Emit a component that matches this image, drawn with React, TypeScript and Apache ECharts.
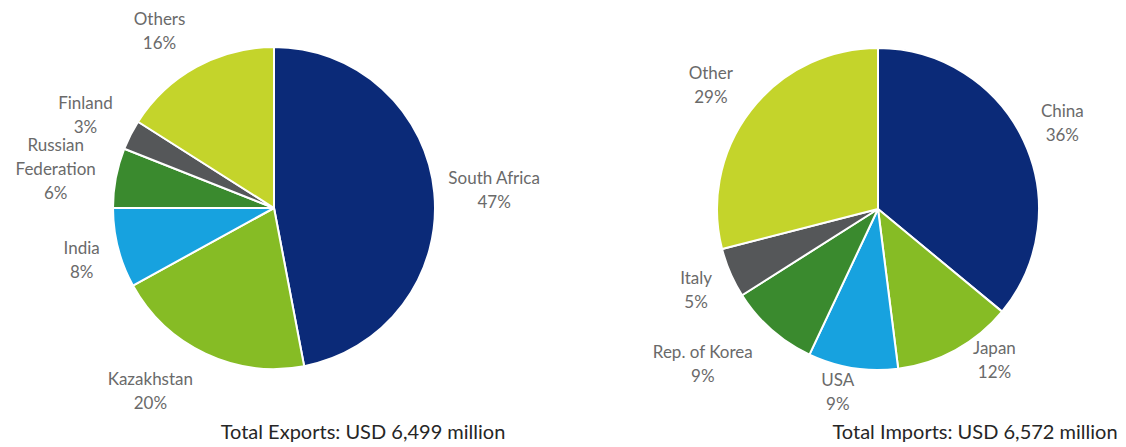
import React, { useEffect, useRef } from "react";
import * as echarts from "echarts";

// ---- data ----
const exportCategories = ["South Africa", "Kazakhstan", "India", "Russian Federation", "Finland", "Others"];
const exportShares = [47, 20, 8, 6, 3, 16];
const importCategories = ["China", "Japan", "USA", "Rep. of Korea", "Italy", "Other"];
const importShares = [36, 12, 9, 9, 5, 29];
const exportTitle = "Total Exports: USD 6,499 million";
const importTitle = "Total Imports: USD 6,572 million";

// ---- styles ----
const sliceColors = ["#0b2a78", "#86bc25", "#17a2df", "#3a8a2e", "#555759", "#c4d42b"];
const FONT = "Lato, 'Open Sans', sans-serif";
const LABEL_GAP = 12;
// small per-label nudges (px) mimicking the original's best-fit label placement
const exportLabelNudges: [number, number][] = [[0, 2], [-33, -10], [-2, 3], [-3, 2], [-3, 1], [-15, 3]];
const importLabelNudges: [number, number][] = [[1, 0], [18, -29], [-9, -14], [-27, -14], [-1, 2], [-5, 1]];
const labelNudges = [exportLabelNudges, importLabelNudges];

const wrapName = (name: string) => (name.length > 14 ? name.replace(" ", "\n") : name);

const labelLayout = (params: any) => {
  const pts = params.labelLinePoints;
  if (!pts || pts.length < 2) return {};
  const p1 = pts[0];
  const p2 = pts[1];
  let ux = p2[0] - p1[0];
  let uy = p2[1] - p1[1];
  const len = Math.hypot(ux, uy) || 1;
  ux /= len;
  uy /= len;
  const w = params.labelRect.width;
  const h = params.labelRect.height;
  const ext = (w / 2) * Math.abs(ux) + (h / 2) * Math.abs(uy);
  const nudge = (labelNudges[params.seriesIndex] || [])[params.dataIndex] || [0, 0];
  return {
    x: p1[0] + ux * (LABEL_GAP + ext) + nudge[0],
    y: p1[1] + uy * (LABEL_GAP + ext) + nudge[1],
    align: "center",
    verticalAlign: "middle",
  };
};

const makePie = (names: string[], values: number[], center: [number, number]) => ({
  type: "pie",
  center,
  radius: 161,
  startAngle: 90,
  clockwise: true,
  avoidLabelOverlap: false,
  data: names.map((n, i) => ({ name: n, value: values[i] })),
  itemStyle: { borderColor: "#ffffff", borderWidth: 2 },
  label: {
    show: true,
    position: "outside",
    formatter: (p: any) => `${wrapName(p.name)}\n${Math.round(p.percent)}%`,
    color: "#6a6a6a",
    fontFamily: FONT,
    fontSize: 17,
    lineHeight: 24,
  },
  labelLine: { show: true, length: 10, length2: 0, lineStyle: { opacity: 0 } },
  labelLayout,
  emphasis: { disabled: true },
});

export default function App() {
  const ref = useRef<HTMLDivElement>(null);
  useEffect(() => {
    document.body.style.margin = "0";
    if (!ref.current) return;
    const chart = echarts.init(ref.current, undefined, { renderer: "svg" });
    chart.setOption({
      animation: false,
      color: sliceColors,
      backgroundColor: "#ffffff",
      graphic: [
        {
          type: "text",
          x: 363,
          y: 431,
          style: {
            text: exportTitle,
            align: "center",
            verticalAlign: "middle",
            fill: "#262626",
            font: `20px ${FONT}`,
          },
        },
        {
          type: "text",
          x: 975,
          y: 431,
          style: {
            text: importTitle,
            align: "center",
            verticalAlign: "middle",
            fill: "#262626",
            font: `20px ${FONT}`,
          },
        },
      ],
      series: [
        makePie(exportCategories, exportShares, [274, 208]),
        makePie(importCategories, importShares, [878, 209]),
      ],
    });
    return () => chart.dispose();
  }, []);
  return <div ref={ref} style={{ width: 1126, height: 447 }} />;
}
